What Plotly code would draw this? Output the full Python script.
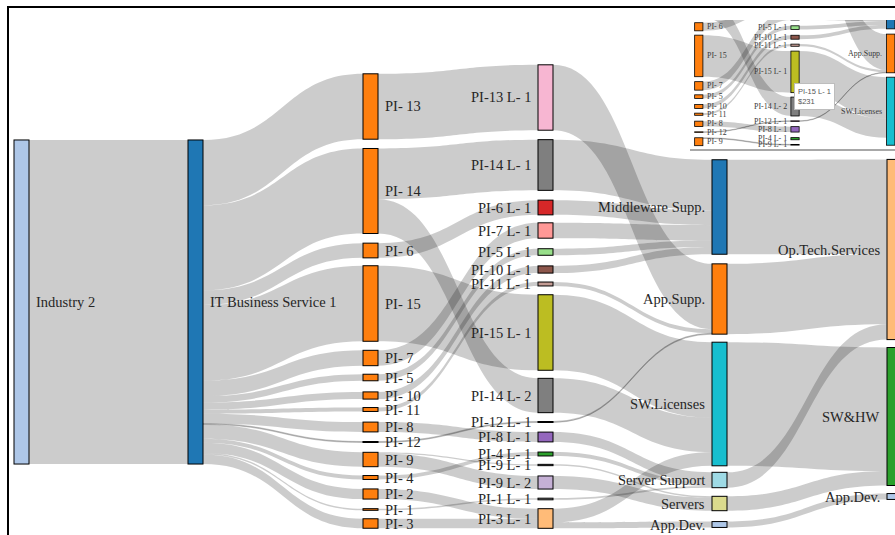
import plotly.graph_objects as go

W, H = 895, 535

# ---------------- data ----------------
# node names, one list per level (left to right)
level_names = [
    ["Industry 2"],
    ["IT Business Service 1"],
    ["PI- 13", "PI- 14", "PI- 6", "PI- 15", "PI- 7", "PI- 5", "PI- 10", "PI- 11",
     "PI- 8", "PI- 12", "PI- 9", "PI- 4", "PI- 2", "PI- 1", "PI- 3"],
    ["PI-13 L- 1", "PI-14 L- 1", "PI-6 L- 1", "PI-7 L- 1", "PI-5 L- 1", "PI-10 L- 1",
     "PI-11 L- 1", "PI-15 L- 1", "PI-14 L- 2", "PI-12 L- 1", "PI-8 L- 1", "PI-4 L- 1",
     "PI-9 L- 1", "PI-9 L- 2", "PI-1 L- 1", "PI-3 L- 1"],
    ["Middleware Supp.", "App.Supp.", "SW.Licenses", "Server Support", "Servers", "App.Dev."],
    ["Op.Tech.Services", "SW&HW", "App.Dev."],
]

# spend ($) flowing from each level into the next one: (source, target, value)
flows_0 = [("Industry 2", "IT Business Service 1", 991)]
flows_1 = [
    ("IT Business Service 1", "PI- 13", 200),
    ("IT Business Service 1", "PI- 14", 260),
    ("IT Business Service 1", "PI- 6", 45),
    ("IT Business Service 1", "PI- 15", 231),
    ("IT Business Service 1", "PI- 7", 47),
    ("IT Business Service 1", "PI- 5", 20),
    ("IT Business Service 1", "PI- 10", 22),
    ("IT Business Service 1", "PI- 11", 12),
    ("IT Business Service 1", "PI- 8", 30),
    ("IT Business Service 1", "PI- 12", 3),
    ("IT Business Service 1", "PI- 9", 44),
    ("IT Business Service 1", "PI- 4", 12),
    ("IT Business Service 1", "PI- 2", 31),
    ("IT Business Service 1", "PI- 1", 5),
    ("IT Business Service 1", "PI- 3", 29),
]
flows_2 = [
    ("PI- 13", "PI-13 L- 1", 200),
    ("PI- 14", "PI-14 L- 1", 155),
    ("PI- 14", "PI-14 L- 2", 105),
    ("PI- 6", "PI-6 L- 1", 45),
    ("PI- 15", "PI-15 L- 1", 231),
    ("PI- 7", "PI-7 L- 1", 47),
    ("PI- 5", "PI-5 L- 1", 20),
    ("PI- 10", "PI-10 L- 1", 22),
    ("PI- 11", "PI-11 L- 1", 12),
    ("PI- 8", "PI-8 L- 1", 30),
    ("PI- 12", "PI-12 L- 1", 3),
    ("PI- 9", "PI-9 L- 1", 4),
    ("PI- 9", "PI-9 L- 2", 40),
    ("PI- 4", "PI-4 L- 1", 12),
    ("PI- 2", "PI-3 L- 1", 31),
    ("PI- 1", "PI-1 L- 1", 5),
    ("PI- 3", "PI-3 L- 1", 29),
]
flows_3 = [
    ("PI-13 L- 1", "App.Supp.", 200),
    ("PI-14 L- 1", "Middleware Supp.", 155),
    ("PI-6 L- 1", "Middleware Supp.", 45),
    ("PI-7 L- 1", "Middleware Supp.", 47),
    ("PI-5 L- 1", "Middleware Supp.", 20),
    ("PI-10 L- 1", "Middleware Supp.", 22),
    ("PI-11 L- 1", "App.Supp.", 12),
    ("PI-15 L- 1", "SW.Licenses", 231),
    ("PI-14 L- 2", "SW.Licenses", 105),
    ("PI-12 L- 1", "App.Supp.", 3),
    ("PI-8 L- 1", "Server Support", 30),
    ("PI-4 L- 1", "Server Support", 12),
    ("PI-9 L- 1", "Servers", 4),
    ("PI-9 L- 2", "Servers", 40),
    ("PI-1 L- 1", "Server Support", 5),
    ("PI-3 L- 1", "SW.Licenses", 42),
    ("PI-3 L- 1", "App.Dev.", 18),
]
flows_4 = [
    ("Middleware Supp.", "Op.Tech.Services", 289),
    ("App.Supp.", "Op.Tech.Services", 215),
    ("Server Support", "Op.Tech.Services", 47),
    ("SW.Licenses", "SW&HW", 378),
    ("Servers", "SW&HW", 44),
    ("App.Dev.", "App.Dev.", 18),
]
flows_by_level = [flows_0, flows_1, flows_2, flows_3, flows_4]

# ---------------- styling / layout ----------------
level_colors = [
    ["#aec7e8"],
    ["#1f77b4"],
    ["#ff7f0e"] * 15,
    ["#f7b6d2", "#7f7f7f", "#d62728", "#ff9896", "#98df8a", "#8c564b", "#c49c94", "#bcbd22",
     "#7f7f7f", "#e377c2", "#9467bd", "#2ca02c", "#7f7f7f", "#c5b0d5", "#7f7f7f", "#ffbb78"],
    ["#1f77b4", "#ff7f0e", "#17becf", "#9edae5", "#dbdb8d", "#aec7e8"],
    ["#ffbb78", "#2ca02c", "#aec7e8"],
]
# column centres and node centres in page pixels
col_x_px = [21.5, 195.5, 370.5, 545.5, 719.5, 894.5]
level_y_px = [
    [302],
    [302],
    [106.5, 191, 250.5, 303.5, 358, 377.5, 395.5, 409.5, 427, 442, 459.5, 477.5, 494, 509.5, 523.5],
    [97.5, 165, 207.5, 230.5, 252, 269.5, 284, 332.5, 395.5, 422, 437, 454, 465, 482.5, 499, 518.5],
    [207, 299, 404, 480, 503.5, 524.5],
    [249.5, 416.5, 496.5],
]
label_on_left = [False, False, False, True, True, True]
THICK = 15
PX_PER_USD = 0.327
LABEL_FONT = "Liberation Serif"
LABEL_SIZE = 14.5
LINK_GREY = "rgba(0,0,0,0.2)"

# magnified inset (top-right): same diagram scaled and shifted
INSET_S, INSET_DX, INSET_DY = 0.55, 495, -111
INSET_TOP, INSET_BOTTOM, INSET_LEFT = 19.5, 148.5, 690
PARKED_Y = 3 * H  # nodes not shown in the inset are parked far below the page


def darker(hex_color, k=0.49):
    h = hex_color.lstrip("#")
    r, g, b = (int(h[i:i + 2], 16) for i in (0, 2, 4))
    return "rgb(%d,%d,%d)" % (r * k, g * k, b * k)


# ---------------- build node / link tables ----------------
node_index, node_label, node_level, node_color, node_px, node_py = {}, [], [], [], [], []
for lv, names in enumerate(level_names):
    for i, name in enumerate(names):
        node_index[(lv, name)] = len(node_label)
        node_label.append(name)
        node_level.append(lv)
        node_color.append(level_colors[lv][i])
        node_px.append(col_x_px[lv])
        node_py.append(level_y_px[lv][i])

src, dst, val = [], [], []
for lv, flows in enumerate(flows_by_level):
    for s, t, v in flows:
        src.append(node_index[(lv, s)])
        dst.append(node_index[(lv + 1, t)])
        val.append(v)

n = len(node_label)
inflow = [0] * n
outflow = [0] * n
for s, t, v in zip(src, dst, val):
    outflow[s] += v
    inflow[t] += v
node_value = [max(a, b) for a, b in zip(inflow, outflow)]

level_count = [len(x) for x in level_names]
level_total = [sum(node_value[i] for i in range(n) if node_level[i] == lv) for lv in range(len(level_names))]


def pad_for(px_per_unit):
    # node padding that makes the sankey vertical scale equal px_per_unit
    return min((H - px_per_unit * tot) / (cnt - 1)
               for cnt, tot in zip(level_count, level_total) if cnt > 1)


# ---------------- main diagram ----------------
main = go.Sankey(
    arrangement="fixed",
    domain=dict(x=[0, 1], y=[0, 1]),
    hoverinfo="none",
    node=dict(
        label=[""] * n,
        x=[x / W for x in node_px],
        y=[y / H for y in node_py],
        pad=pad_for(PX_PER_USD),
        thickness=THICK,
        color=node_color,
        line=dict(color=[darker(c) for c in node_color], width=1),
        hoverinfo="none",
    ),
    link=dict(source=src, target=dst, value=val, color=LINK_GREY, hoverinfo="none"),
)

# ---------------- inset ----------------
ins_show = [node_level[i] >= 2 and node_py[i] < 470 for i in range(n)]
ins_px = [INSET_S * x + INSET_DX for x in node_px]
ins_py = [INSET_S * y + INSET_DY if ins_show[i] else PARKED_Y for i, y in enumerate(node_py)]

inset = go.Sankey(
    arrangement="fixed",
    domain=dict(x=[0, 1], y=[0, 1]),
    hoverinfo="none",
    node=dict(
        label=[""] * n,
        x=[x / W for x in ins_px],
        y=[y / H for y in ins_py],
        pad=pad_for(PX_PER_USD * INSET_S),
        thickness=THICK * INSET_S,
        color=node_color,
        line=dict(color=[darker(c) for c in node_color], width=0.8),
        hoverinfo="none",
    ),
    link=dict(source=src, target=dst, value=val, hoverinfo="none",
              color=[LINK_GREY if (ins_show[s] and ins_show[t]) else "rgba(0,0,0,0)"
                     for s, t in zip(src, dst)]),
)

fig = go.Figure([main, inset])

annotations = []


def node_label_annotation(text, cx, cy, left, half_thick, gap, size, color):
    x = cx - half_thick - gap if left else cx + half_thick + gap
    return dict(text=text, xref="paper", yref="paper", x=x / W, y=1 - cy / H,
                xanchor="right" if left else "left", yanchor="middle",
                showarrow=False, borderpad=0,
                font=dict(family=LABEL_FONT, size=size, color=color))


for i in range(n):
    annotations.append(node_label_annotation(
        node_label[i], node_px[i], node_py[i], label_on_left[node_level[i]],
        THICK / 2, 6, LABEL_SIZE, "#262626"))

for i in range(n):
    if ins_show[i] and INSET_TOP < ins_py[i] < INSET_BOTTOM and ins_px[i] < W:
        annotations.append(node_label_annotation(
            node_label[i], ins_px[i], ins_py[i], label_on_left[node_level[i]],
            THICK * INSET_S / 2, 6 * INSET_S, LABEL_SIZE * INSET_S, "#3a3a3a"))

# white band above the inset
annotations.append(dict(text=" ", xref="paper", yref="paper", x=INSET_LEFT / W, y=1,
                        xanchor="left", yanchor="top", showarrow=False,
                        width=W - INSET_LEFT + 10, height=INSET_TOP, borderpad=0,
                        bgcolor="white", borderwidth=0))

# tooltip shown in the inset
tip_node = node_index[(3, "PI-15 L- 1")]
annotations.append(dict(text="%s<br>$%d" % (node_label[tip_node], node_value[tip_node]),
                        xref="paper", yref="paper", x=794 / W, y=1 - 83 / H,
                        xanchor="left", yanchor="top", showarrow=False, align="left",
                        bgcolor="white", bordercolor="#bdbdbd", borderwidth=1, borderpad=3,
                        font=dict(family="Liberation Sans", size=7.5, color="#555555")))

# outer frame
annotations.append(dict(text=" ", xref="paper", yref="paper", x=7 / W, y=1 - 6 / H,
                        xanchor="left", yanchor="top", showarrow=False,
                        width=1200, height=900, borderpad=0,
                        bgcolor="rgba(0,0,0,0)", bordercolor="black", borderwidth=2))

fig.update_layout(
    width=W, height=H,
    margin=dict(l=0, r=0, t=0, b=0),
    paper_bgcolor="white",
    annotations=annotations,
    shapes=[dict(type="line", xref="paper", yref="paper",
                 x0=INSET_LEFT / W, x1=1, y0=1 - 150 / H, y1=1 - 150 / H,
                 line=dict(color="#a8a8a8", width=2))],
)

fig.write_html("out.html")
